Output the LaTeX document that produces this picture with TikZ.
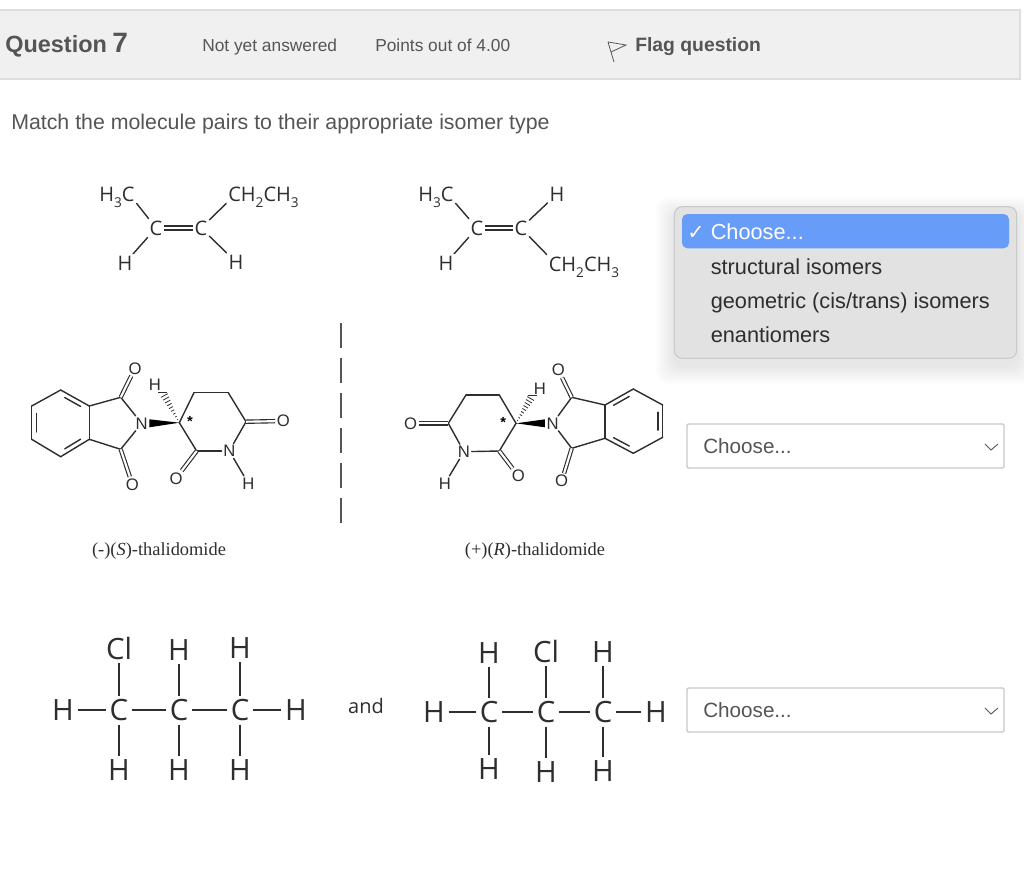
\documentclass[tikz,border=0pt]{standalone}
\usepackage{fontspec}
\setmainfont{Liberation Sans}
\newfontfamily\chemfont{Open Sans}
\newfontfamily\capfont{Liberation Serif}
\newfontfamily\tickfont{DejaVu Sans}
\usetikzlibrary{calc}
\definecolor{inkgray}{HTML}{555555}
\definecolor{bondgray}{HTML}{2E2E2E}
\definecolor{headfill}{HTML}{F0F0F0}
\definecolor{headline}{HTML}{DEDEDE}
\definecolor{menufill}{HTML}{E2E2E2}
\definecolor{menuline}{HTML}{C9C9C9}
\definecolor{menublue}{HTML}{679CF8}
\newcommand{\chemsub}[1]{\smash{\raisebox{-.55ex}{\scalebox{.68}{#1}}}}
\newcommand{\innerbond}[3]{\draw[bond] ($($(#1)!.17!(#2)$)!.16!(#3)$) -- ($($(#1)!.83!(#2)$)!.16!(#3)$);}
\newcommand{\pxfont}[1]{\fontsize{#1}{#1}\selectfont}
\tikzset{
	head/.style={anchor=base west,inner sep=0pt,text=inkgray,font=\pxfont{13}},
	menuitem/.style={anchor=base west,inner sep=0pt,text=black!82,font=\pxfont{16.3}},
	selectbox/.style={draw=menuline,line width=1.1pt,fill=white,rounded corners=1pt},
	chevron/.style={draw=inkgray,line width=.7pt},
	alkene/.style={inner sep=1.4pt,text=bondgray,font=\chemfont\pxfont{15}},
	atom/.style={inner sep=1.1pt,text=bondgray,font=\pxfont{12.5}},
	chiral/.style={inner sep=0pt,text=black,font=\bfseries\pxfont{11}},
	ethane/.style={inner sep=2.6pt,text=bondgray,font=\chemfont\pxfont{22}},
	caption/.style={inner sep=0pt,text=bondgray,font=\capfont\pxfont{13.8}},
	bond/.style={draw=bondgray,line width=1.05pt,line cap=round},
	dbond/.style={draw=bondgray,line width=.85pt,double=white,double distance=1.6pt},
	heavybond/.style={draw=bondgray,line width=1.9pt},
}
\begin{document}
\begin{tikzpicture}[x=.75pt,y=-.75pt]
	\useasboundingbox (0,0) rectangle (1024,883);
	\fill[white] (0,0) rectangle (1024,883);
	% header
	\draw[draw=headline,line width=.9pt,fill=headfill] (-3,10) rectangle (1020,79);
	\node[head,font=\bfseries\pxfont{17.6}] (qword) at (5,52) {Question};
	\node[head,font=\bfseries\pxfont{21}] (qnum) at (112,52) {7};
	\node[head] (status) at (202,51) {Not yet answered};
	\node[head] (points) at (375,51) {Points out of 4.00};
	\node[head,font=\bfseries\pxfont{14.5}] (flag) at (635,51) {Flag question};
	\draw[inkgray,line width=.6pt] (608,42) -- (614,62) (608,42) -- (626,45) -- (611,52);
	\node[head,font=\pxfont{16}] (prompt) at (11,129) {Match the molecule pairs to their appropriate isomer type};
	% alkenes
	\node[alkene] (lMe) at (117,194) {H\chemsub{3}C};
	\node[alkene] (lCa) at (156,228) {C};
	\node[alkene] (lCb) at (201,228) {C};
	\node[alkene] (lEt) at (263.5,194) {CH\chemsub{2}CH\chemsub{3}};
	\node[alkene] (lHa) at (125,263) {H};
	\node[alkene] (lHb) at (236,262) {H};
	\draw[bond] (lMe.south east) -- (lCa);
	\draw[bond] (lHa) -- (lCa);
	\draw[dbond,double distance=2.2pt] (lCa) -- (lCb);
	\draw[bond] (lCb) -- (lEt.south west);
	\draw[bond] (lCb) -- (lHb);
	\node[alkene] (rMe) at (436,194) {H\chemsub{3}C};
	\node[alkene] (rCa) at (477,228) {C};
	\node[alkene] (rCb) at (521,228) {C};
	\node[alkene] (rHc) at (557,194) {H};
	\node[alkene] (rEt) at (584,264) {CH\chemsub{2}CH\chemsub{3}};
	\node[alkene] (rHa) at (446,263) {H};
	\draw[bond] (rMe.south east) -- (rCa);
	\draw[bond] (rHa) -- (rCa);
	\draw[dbond,double distance=2.2pt] (rCa) -- (rCb);
	\draw[bond] (rCb) -- (rHc);
	\draw[bond] (rCb) -- (rEt.north west);
	% left thalidomide
	\coordinate (lBa) at (60.7,390);
	\coordinate (lBb) at (89.3,406);
	\coordinate (lBc) at (89.3,439.3);
	\coordinate (lBd) at (60.7,456.7);
	\coordinate (lBe) at (31.7,439.3);
	\coordinate (lBf) at (31.7,406);
	\coordinate (lBz) at (60.5,423);
	\coordinate (lKa) at (120.7,397.3);
	\coordinate (lKb) at (120.7,449.3);
	\coordinate (lCs) at (179.3,422.7);
	\coordinate (lPa) at (194,392.7);
	\coordinate (lPb) at (228.3,392.7);
	\coordinate (lKc) at (246,421.7);
	\coordinate (lKd) at (196.7,451);
	\node[atom] (lOa) at (135,368.3) {O};
	\node[atom] (lOb) at (132.3,484.3) {O};
	\node[atom] (lOc) at (283.3,421) {O};
	\node[atom] (lOd) at (176,478.3) {O};
	\node[atom] (lNa) at (141.7,423.3) {N};
	\node[atom] (lNb) at (229.3,451) {N};
	\node[atom] (lHc) at (155,385) {H};
	\node[atom] (lHd) at (248.3,483.3) {H};
	\node[chiral] (lSt) at (190,421.5) {*};
	\foreach \a/\b in {lBa/lBb,lBb/lBc,lBc/lBd,lBd/lBe,lBe/lBf,lBf/lBa,lBb/lKa,lBc/lKb,lKa/lNa,lKb/lNa,lCs/lPa,lPa/lPb,lPb/lKc,lKc/lNb,lNb/lKd,lKd/lCs,lNb/lHd}
		\draw[bond] (\a) -- (\b);
	\foreach \a/\b in {lKa/lOa,lKb/lOb,lKc/lOc,lKd/lOd}
		\draw[dbond] (\a) -- (\b);
	\innerbond{lBa}{lBb}{lBz}
	\innerbond{lBe}{lBf}{lBz}
	\innerbond{lBc}{lBd}{lBz}
	\fill[black] (lCs) -- ($(lNa.east)+(0,4)$) -- ($(lNa.east)+(0,-4)$) -- cycle;
	\foreach \t [evaluate=\t as \w using 3.2*\t] in {.1,.2,...,1}
		\draw[bondgray,line width=.6pt] ($(lCs)!\t!(lHc.south east)!\w pt!90:(lHc.south east)$) -- ($(lCs)!\t!(lHc.south east)!\w pt!-90:(lHc.south east)$);
	\node[caption] (lName) at (159,551.5) {(-)(\textit{S})-thalidomide};
	% mirror line
	\coordinate (mTop) at (341,323);
	\coordinate (mEnd) at (341,525);
	\draw[draw=inkgray,line width=1pt,dash pattern=on 18.75pt off 7.5pt] (mTop) -- (mEnd);
	% right thalidomide
	\coordinate (rBa) at (633.3,389);
	\coordinate (rBb) at (605,405);
	\coordinate (rBc) at (605,438.3);
	\coordinate (rBd) at (633.3,453.3);
	\coordinate (rBe) at (662.7,437.3);
	\coordinate (rBf) at (662.7,405);
	\coordinate (rBz) at (633.5,421);
	\coordinate (rKa) at (571.7,397.3);
	\coordinate (rKb) at (571.7,448.3);
	\coordinate (rCs) at (516,423.3);
	\coordinate (rPa) at (499.3,395);
	\coordinate (rPb) at (466,395);
	\coordinate (rKc) at (448.3,423.3);
	\coordinate (rKd) at (499.3,451);
	\node[atom] (rOa) at (558.3,370) {O};
	\node[atom] (rOb) at (561.7,481) {O};
	\node[atom] (rOc) at (410.7,423.3) {O};
	\node[atom] (rOd) at (518.3,476) {O};
	\node[atom] (rNa) at (552.7,423.3) {N};
	\node[atom] (rNb) at (464,451.7) {N};
	\node[atom] (rHd) at (540,388.3) {H};
	\node[atom] (rHe) at (445,483.3) {H};
	\node[chiral] (rSt) at (503.3,422.5) {*};
	\foreach \a/\b in {rBa/rBb,rBb/rBc,rBc/rBd,rBd/rBe,rBe/rBf,rBf/rBa,rBb/rKa,rBc/rKb,rKa/rNa,rKb/rNa,rCs/rPa,rPa/rPb,rPb/rKc,rKc/rNb,rNb/rKd,rKd/rCs,rNb/rHe}
		\draw[bond] (\a) -- (\b);
	\foreach \a/\b in {rKa/rOa,rKb/rOb,rKc/rOc,rKd/rOd}
		\draw[dbond] (\a) -- (\b);
	\innerbond{rBa}{rBb}{rBz}
	\innerbond{rBe}{rBf}{rBz}
	\innerbond{rBc}{rBd}{rBz}
	\fill[black] (rCs) -- ($(rNa.west)+(0,4)$) -- ($(rNa.west)+(0,-4)$) -- cycle;
	\foreach \t [evaluate=\t as \w using 3.2*\t] in {.1,.2,...,1}
		\draw[bondgray,line width=.6pt] ($(rCs)!\t!(rHd.south west)!\w pt!90:(rHd.south west)$) -- ($(rCs)!\t!(rHd.south west)!\w pt!-90:(rHd.south west)$);
	\node[caption] (rName) at (535,551.5) {(+)(\textit{R})-thalidomide};
	% chloropropanes
	\foreach \n/\x/\y/\l in {aW/63/710/H,aA/119/710/C,aB/179/710/C,aC/240/710/C,aE/296/710/H,aP/119/648/Cl,aQ/179/650/H,aR/240/648/H,aS/119/770/H,aT/179/770/H,aU/240/770/H,bW/434/712/H,bA/489/712/C,bB/546/712/C,bC/603/712/C,bE/656/712/H,bP/489/653/H,bQ/546/651/Cl,bR/603/652/H,bS/489/769/H,bT/546/772/H,bU/603/771/H}
		\node[ethane] (\n) at (\x,\y) {\l};
	\foreach \p in {a,b}
		\foreach \a/\b in {W/A,A/B,B/C,C/E,P/A,Q/B,R/C,A/S,B/T,C/U}
			\draw[heavybond] (\p\a) -- (\p\b);
	\node[alkene,font=\chemfont\pxfont{15}] (andw) at (366,706) {and};
	% select boxes
	\foreach \n/\y in {selA/424,selB/688} {
		\draw[selectbox] (687,\y) rectangle (1004,\y+44);
		\node[head,font=\pxfont{15.5}] (\n) at (703,\y+29) {Choose...};
		\draw[chevron] (985,\y+20) -- (991,\y+26) -- (998,\y+20);
	}
	% open menu
	\foreach \g in {1,...,12}
		\fill[black,opacity=.009,rounded corners=8pt] (674-1.5*\g,207-1.5*\g+8) rectangle (1017+1.5*\g,358+1.5*\g+8);
	\draw[draw=menuline,line width=.8pt,fill=menufill,rounded corners=6pt] (674.3,206.7) rectangle (1016.7,358.3);
	\fill[menublue,rounded corners=4pt] (682,214) rectangle (1009,248.3);
	\node[menuitem,text=white,font=\tickfont\pxfont{15.5}] (tick) at (687,239) {✓};
	\node[menuitem,text=white] (optA) at (710.5,239) {Choose...};
	\node[menuitem] (optB) at (710.5,274) {structural isomers};
	\node[menuitem] (optC) at (710.5,308) {geometric (cis/trans) isomers};
	\node[menuitem] (optD) at (710.5,342) {enantiomers};
\end{tikzpicture}
\end{document}
